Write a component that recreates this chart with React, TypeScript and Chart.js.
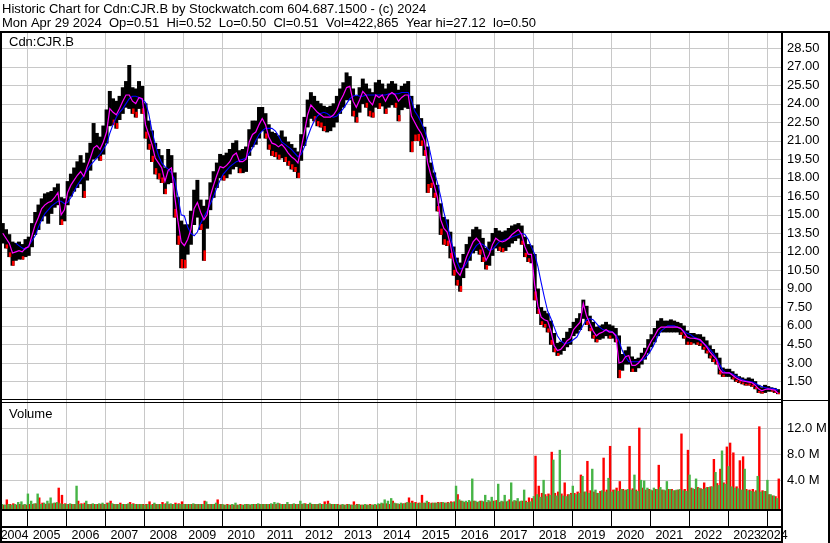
import { useEffect, useRef } from 'react';
import { Chart, registerables } from 'chart.js';

Chart.register(...registerables);

// ---------- data (monthly, May 2004 .. Apr 2024) ----------
const START_YEAR = 2004;
const START_MONTH = 4; // May (0-based)

const closePx = [
  13.5, 13.1, 12.7, 11.9, 12.0, 12.1, 12.0, 12.3,
  12.4, 13.3, 14.2, 14.8, 15.5, 15.8, 16.0, 16.1, 16.4, 16.8, 15.0, 15.4,
  16.8, 17.4, 17.8, 18.2, 18.5, 18.1, 18.9, 19.6, 20.4, 20.6, 20.3, 20.9,
  21.7, 23.6, 23.3, 23.1, 23.6, 24.2, 24.7, 24.7, 24.2, 24.0, 24.5, 24.4,
  22.3, 21.5, 20.7, 19.6, 19.2, 18.8, 17.7, 18.6, 18.8, 16.5, 14.5, 12.8,
  12.5, 13.0, 13.8, 15.5, 16.0, 15.2, 14.6, 15.0, 16.5, 17.4, 18.2, 18.9,
  18.8, 19.0, 19.3, 19.8, 20.0, 19.3, 19.3, 19.5, 20.9, 21.5, 21.7, 22.3,
  22.8, 22.3, 21.3, 20.8, 20.7, 20.5, 20.7, 20.4, 20.0, 19.7, 19.5, 19.2,
  20.4, 21.7, 23.1, 23.9, 23.6, 23.3, 23.1, 22.9, 22.9, 22.9, 23.1, 23.5,
  24.2, 24.7, 25.3, 25.4, 24.2, 23.7, 24.3, 25.0, 24.7, 24.2, 23.9, 24.7,
  24.5, 24.7, 24.2, 24.7, 24.9, 24.7, 24.2, 24.5, 24.7, 24.7, 23.0, 22.5,
  22.0, 21.6, 21.0, 19.2, 18.2, 17.4, 16.4, 14.6, 13.9, 13.6, 12.6, 11.2,
  10.4, 10.1, 10.8, 11.6, 12.2, 12.8, 13.1, 12.8, 12.2, 11.3, 11.8, 12.6,
  13.1, 12.9, 12.8, 12.9, 13.1, 13.4, 13.6, 13.8, 13.4, 12.4, 11.8, 11.8,
  9.3, 7.6, 6.7, 6.5, 6.4, 5.6, 4.4, 4.0, 4.1, 4.4, 4.8, 5.0,
  5.7, 6.0, 6.3, 7.8, 6.8, 6.2, 5.6, 5.2, 5.4, 5.5, 5.7, 5.5,
  5.5, 5.2, 3.0, 3.1, 3.5, 3.6, 2.8, 2.8, 3.0, 3.3, 3.7, 4.3,
  4.8, 5.2, 5.7, 5.9, 5.9, 5.9, 5.9, 5.9, 5.9, 5.8, 5.5, 5.1,
  5.0, 5.0, 4.95, 4.9, 4.6, 4.3, 3.9, 3.6, 3.3, 2.5, 2.2, 2.2,
  2.2, 2.0, 1.8, 1.65, 1.55, 1.5, 1.45, 1.4, 1.2, 0.9, 0.75, 0.85,
  0.9, 0.85, 0.8, 0.55,
];

const highPx = [
  14.3, 13.8, 13.4, 12.8, 12.7, 12.8, 12.6, 13.0,
  13.2, 14.3, 15.2, 15.8, 16.3, 16.7, 16.8, 16.9, 17.2, 17.5, 16.4, 16.3,
  17.7, 18.3, 18.8, 19.3, 19.8, 19.2, 20.0, 20.8, 22.4, 21.6, 21.3, 22.2,
  23.5, 25.0, 24.4, 24.2, 24.6, 25.3, 25.8, 27.1, 25.3, 25.2, 25.8, 25.4,
  24.0, 22.6, 21.8, 20.8, 20.3, 19.8, 18.8, 20.3, 19.8, 18.4, 16.4, 14.5,
  14.2, 14.2, 15.3, 17.0, 17.8, 16.2, 15.7, 16.2, 17.6, 18.5, 19.2, 19.9,
  19.8, 20.0, 20.3, 20.8, 21.0, 20.2, 20.3, 20.5, 21.9, 22.6, 22.6, 23.7,
  23.7, 23.2, 22.3, 21.7, 21.6, 21.4, 21.8, 21.3, 20.9, 20.7, 20.4, 20.1,
  21.5, 22.9, 24.3, 24.9, 24.6, 24.2, 24.0, 23.8, 23.7, 23.8, 24.0, 24.6,
  25.2, 25.7, 26.5, 26.2, 25.2, 24.6, 25.3, 26.0, 25.6, 25.2, 24.9, 25.7,
  25.9, 25.6, 25.2, 25.6, 25.8, 25.6, 25.1, 25.4, 25.6, 25.8, 24.6, 23.6,
  23.9, 22.8, 22.1, 20.5, 19.2, 18.4, 17.4, 15.9, 14.8, 14.6, 13.6, 12.4,
  11.5, 11.1, 11.8, 12.6, 13.2, 13.8, 14.0, 13.8, 13.1, 12.3, 12.8, 13.5,
  13.9, 13.7, 13.6, 13.7, 13.9, 14.1, 14.2, 14.3, 14.1, 13.2, 12.6, 12.5,
  11.8, 9.0, 7.5, 7.2, 7.0, 6.4, 5.4, 4.6, 4.7, 5.0, 5.5, 5.8,
  6.3, 6.6, 7.0, 8.1, 7.6, 6.8, 6.3, 5.9, 6.0, 6.1, 6.3, 6.1,
  6.0, 5.8, 5.2, 3.7, 4.0, 4.3, 3.5, 3.3, 3.4, 3.8, 4.2, 4.9,
  5.3, 5.8, 6.4, 6.6, 6.4, 6.4, 6.5, 6.4, 6.3, 6.2, 6.0, 5.6,
  5.4, 5.4, 5.3, 5.3, 5.1, 4.8, 4.4, 4.1, 3.8, 3.4, 2.6, 2.5,
  2.5, 2.3, 2.1, 1.9, 1.8, 1.7, 1.8, 1.7, 1.5, 1.2, 1.0, 1.2,
  1.1, 1.0, 0.95, 0.85,
];

const lowPx = [
  12.7, 12.3, 11.6, 10.9, 11.3, 11.4, 11.4, 11.6,
  11.7, 12.4, 13.4, 13.8, 14.5, 14.9, 14.3, 15.1, 15.6, 15.8, 14.2, 14.5,
  15.8, 16.5, 16.9, 17.2, 17.5, 16.4, 17.8, 18.6, 19.5, 19.6, 19.4, 19.9,
  20.8, 22.2, 22.3, 22.0, 22.7, 23.2, 23.7, 23.6, 23.2, 22.9, 23.6, 23.2,
  21.2, 20.3, 19.3, 18.3, 17.9, 17.6, 16.7, 17.5, 17.6, 14.8, 12.6, 10.7,
  10.7, 11.8, 12.6, 14.2, 14.8, 13.8, 11.3, 13.9, 15.4, 16.4, 17.2, 18.0,
  17.8, 18.0, 18.3, 18.7, 18.9, 18.4, 18.4, 18.5, 19.8, 20.5, 20.7, 21.2,
  21.8, 21.2, 20.3, 19.8, 19.7, 19.5, 19.6, 19.3, 19.0, 18.7, 18.5, 18.0,
  19.4, 20.6, 22.1, 22.8, 22.6, 22.2, 22.1, 21.8, 21.7, 21.8, 22.1, 22.5,
  23.2, 23.7, 24.3, 24.3, 23.0, 22.5, 23.3, 24.0, 23.7, 23.0, 22.9, 23.7,
  23.6, 23.8, 23.2, 23.7, 23.9, 23.7, 22.6, 23.5, 23.7, 23.6, 20.1, 21.0,
  21.0, 20.6, 19.8, 16.8, 17.2, 16.4, 15.3, 13.4, 12.6, 12.5, 11.5, 10.1,
  9.3, 8.8, 9.9, 10.7, 11.3, 11.9, 12.1, 11.8, 11.2, 10.6, 10.9, 11.7,
  12.3, 12.1, 12.0, 12.1, 12.4, 12.7, 12.9, 13.1, 12.6, 11.6, 11.2, 11.1,
  8.1, 7.0, 6.1, 5.9, 5.5, 4.5, 3.9, 3.6, 3.7, 4.0, 4.3, 4.5,
  5.2, 5.4, 5.7, 6.6, 6.1, 5.6, 5.0, 4.7, 4.9, 5.0, 5.2, 5.0,
  5.0, 4.7, 1.8, 2.4, 2.9, 2.9, 2.3, 2.3, 2.6, 2.9, 3.3, 3.8,
  4.3, 4.7, 5.2, 5.5, 5.5, 5.5, 5.5, 5.5, 5.5, 5.3, 5.0, 4.5,
  4.5, 4.6, 4.5, 4.4, 4.1, 3.8, 3.4, 3.1, 2.9, 2.1, 1.9, 1.9,
  1.9, 1.7, 1.5, 1.4, 1.3, 1.2, 1.2, 1.1, 0.9, 0.6, 0.55, 0.6,
  0.7, 0.7, 0.6, 0.5,
];

const slowAvg = [
  null, null, null, null, 12.7, 12.5, 12.3, 12.2,
  12.5, 12.9, 13.3, 14.0, 14.6, 15.1, 15.4, 15.7, 15.9, 16.1, 16.1, 15.9,
  16.0, 16.4, 16.9, 17.4, 17.8, 18.2, 18.6, 19.0, 19.3, 19.6, 19.9, 20.3,
  20.7, 21.6, 22.3, 22.9, 23.3, 23.6, 24.0, 24.4, 24.6, 24.6, 24.5, 24.3,
  24.1, 23.2, 21.8, 20.7, 19.8, 19.2, 18.9, 18.7, 18.4, 17.8, 16.5, 15.0,
  14.9, 14.0, 13.5, 13.3, 13.6, 14.3, 14.8, 15.3, 15.9, 16.5, 17.2, 17.8,
  18.3, 18.6, 18.9, 19.1, 19.3, 19.4, 19.5, 19.6, 20.0, 20.4, 21.0, 21.5,
  21.8, 22.0, 22.0, 22.0, 21.8, 21.4, 20.9, 20.7, 20.5, 20.3, 20.0, 19.7,
  19.9, 20.5, 21.3, 22.0, 22.6, 23.0, 23.2, 23.3, 23.2, 23.0, 22.9, 23.0,
  23.3, 23.6, 24.0, 24.4, 24.6, 24.7, 24.6, 24.6, 24.7, 24.7, 24.7, 24.7,
  24.7, 24.7, 24.7, 24.8, 24.8, 24.8, 24.8, 24.9, 24.9, 24.9, 24.3, 23.4,
  23.0, 22.5, 21.9, 21.0, 19.8, 18.5, 17.6, 16.5, 15.2, 14.2, 13.2, 12.1,
  11.2, 10.6, 10.7, 11.1, 11.6, 12.1, 12.5, 12.7, 12.6, 12.4, 12.1, 12.2,
  12.5, 12.8, 12.9, 13.0, 13.1, 13.2, 13.3, 13.4, 13.5, 13.4, 13.0, 12.4,
  11.8, 10.8, 9.5, 8.3, 7.2, 6.6, 5.9, 5.2, 4.8, 4.6, 4.6, 4.7,
  4.9, 5.1, 5.6, 6.1, 6.5, 6.6, 6.5, 6.2, 5.9, 5.7, 5.6, 5.6,
  5.5, 5.3, 4.8, 4.0, 3.5, 3.1, 3.1, 3.1, 3.1, 3.2, 3.4, 3.7,
  4.1, 4.6, 5.2, 5.6, 5.8, 6.0, 6.0, 6.0, 5.9, 5.8, 5.6, 5.4,
  5.3, 5.1, 5.0, 4.8, 4.6, 4.4, 4.1, 3.8, 3.4, 2.9, 2.4, 2.2,
  2.2, 2.1, 1.95, 1.8, 1.65, 1.55, 1.5, 1.45, 1.35, 1.2, 1.1, 1.0,
  0.95, 0.95, 0.9, 0.8,
];

// volume in millions: up-day level (green) and down-day level (red)
const volUp = [
  0.3, 0.2, 0.3, 0.2, 0.3, 0.6, 0.7, 0.3,
  1.9, 0.8, 0.4, 1.9, 0.3, 0.5, 0.8, 1.3, 0.5, 0.6, 0.4, 0.3,
  0.3, 0.4, 0.3, 3.1, 0.3, 0.3, 0.8, 0.3, 0.4, 0.3, 0.4, 0.5,
  0.3, 0.5, 0.4, 0.3, 0.3, 0.3, 0.3, 0.4, 0.3, 0.3, 0.3, 0.3,
  0.2, 0.3, 0.2, 0.5, 0.3, 0.3, 0.3, 0.7, 0.4, 0.3, 0.3, 0.3,
  0.3, 0.3, 0.3, 0.4, 0.3, 0.3, 0.3, 0.7, 0.3, 0.3, 0.5, 0.3,
  0.3, 0.2, 0.2, 0.3, 0.5, 0.2, 0.2, 0.3, 0.3, 0.3, 0.3, 0.4,
  0.3, 0.3, 0.3, 0.4, 0.6, 0.5, 0.3, 0.3, 0.6, 0.3, 0.4, 0.3,
  0.8, 0.4, 0.3, 0.5, 0.3, 0.3, 0.4, 0.3, 0.3, 0.4, 0.3, 0.3,
  0.2, 0.3, 0.2, 0.3, 0.2, 0.2, 0.3, 0.2, 0.3, 0.2, 0.2, 0.3,
  0.4, 0.5, 1.0, 0.8, 1.2, 0.5, 0.4, 0.5, 0.4, 0.6, 0.5, 0.5,
  0.4, 0.5, 0.5, 0.8, 0.4, 0.5, 0.5, 0.5, 0.6, 0.5, 0.5, 0.6,
  3.1, 1.0, 0.8, 0.8, 0.9, 4.2, 0.8, 0.7, 0.8, 1.7, 0.9, 1.4,
  0.8, 3.4, 0.8, 1.7, 0.8, 3.6, 0.9, 1.2, 0.8, 2.5, 0.6, 0.7,
  1.5, 1.8, 1.4, 4.0, 1.5, 1.7, 7.1, 1.6, 8.6, 1.6, 1.5, 1.8,
  3.1, 1.8, 2.0, 4.6, 2.2, 2.0, 5.7, 2.5, 2.0, 2.4, 2.2, 4.3,
  2.2, 2.5, 2.3, 2.6, 2.4, 2.6, 2.5, 4.8, 2.3, 4.0, 3.9, 2.8,
  2.5, 2.8, 2.6, 2.9, 2.5, 3.8, 2.6, 2.4, 2.5, 2.6, 2.4, 2.3,
  4.8, 2.7, 4.2, 2.8, 2.6, 2.8, 2.9, 3.0, 5.2, 3.2, 8.5, 3.4,
  6.1, 3.0, 2.8, 2.7, 2.5, 5.7, 2.4, 2.3, 2.2, 4.6, 2.2, 2.3,
  4.0, 1.8, 1.6, 1.2,
];

const volDown = [
  0.2, 1.0, 0.3, 0.4, 0.2, 0.3, 0.2, 0.2,
  0.3, 0.3, 0.4, 1.3, 0.5, 0.3, 0.4, 0.4, 0.5, 2.8, 1.7, 0.4,
  0.3, 0.3, 0.3, 0.8, 0.4, 0.5, 0.3, 0.3, 0.3, 0.3, 0.3, 0.3,
  0.5, 0.8, 0.3, 0.3, 0.5, 0.3, 0.3, 0.6, 0.4, 0.3, 0.3, 0.3,
  0.3, 0.7, 0.3, 0.3, 0.3, 0.6, 0.4, 0.3, 0.3, 0.5, 0.4, 0.7,
  0.3, 0.3, 0.3, 0.3, 0.3, 0.3, 0.8, 0.3, 0.3, 0.3, 1.0, 0.3,
  0.2, 0.3, 0.2, 0.2, 0.2, 0.3, 0.2, 0.3, 0.2, 0.3, 0.3, 0.3,
  0.3, 0.3, 0.3, 0.3, 0.3, 0.4, 0.3, 0.3, 0.3, 0.3, 0.3, 0.3,
  0.3, 0.4, 0.3, 0.3, 0.3, 0.3, 0.3, 0.7, 0.8, 0.3, 0.3, 0.3,
  0.2, 0.2, 0.3, 0.2, 0.7, 0.3, 0.2, 0.2, 0.2, 0.3, 0.2, 0.2,
  0.3, 0.4, 0.4, 0.3, 0.8, 0.4, 0.3, 0.4, 0.5, 1.3, 0.8, 0.6,
  0.5, 1.7, 0.5, 0.6, 0.5, 0.5, 0.6, 0.6, 0.5, 0.6, 0.7, 0.7,
  1.8, 0.8, 0.6, 0.6, 0.7, 0.8, 0.6, 0.8, 0.7, 0.6, 0.7, 0.8,
  0.9, 0.6, 0.7, 0.7, 1.0, 0.7, 0.8, 0.7, 0.8, 0.8, 1.3, 1.2,
  7.7, 3.1, 2.0, 1.8, 1.9, 8.3, 2.0, 2.2, 1.9, 3.6, 1.8, 2.0,
  2.0, 2.2, 4.8, 2.2, 6.9, 2.4, 2.2, 2.0, 2.3, 7.4, 2.5, 9.2,
  2.5, 2.8, 3.8, 2.6, 2.5, 9.2, 2.7, 2.5, 12.0, 2.8, 2.5, 2.6,
  2.4, 2.6, 6.3, 2.5, 2.4, 2.6, 2.6, 2.4, 2.5, 11.1, 2.6, 8.6,
  2.8, 2.6, 2.9, 2.7, 3.6, 2.9, 3.0, 7.2, 3.5, 5.7, 3.6, 9.1,
  9.7, 8.2, 3.0, 7.0, 7.6, 2.6, 2.5, 2.6, 2.4, 12.2, 2.4, 2.3,
  1.8, 1.6, 1.5, 4.2,
];

const priceTicks = [1.5, 3, 4.5, 6, 7.5, 9, 10.5, 12, 13.5, 15, 16.5, 18, 19.5, 21, 22.5, 24, 25.5, 27, 28.5];
const volumeTicks = [4, 8, 12];
const yearBreaks = [2005, 2006, 2007, 2008, 2009, 2010, 2011, 2012, 2013, 2014, 2015, 2016, 2017, 2018, 2019, 2020, 2021, 2022, 2023, 2024];
const yearNames = ['2004', '2005', '2006', '2007', '2008', '2009', '2010', '2011', '2012', '2013', '2014', '2015', '2016', '2017', '2018', '2019', '2020', '2021', '2022', '2023', '2024'];

const titleLine1 = 'Historic Chart for Cdn:CJR.B by Stockwatch.com 604.687.1500 - (c) 2024';
const titleLine2 = 'Mon Apr 29 2024  Op=0.51  Hi=0.52  Lo=0.50  Cl=0.51  Vol=422,865  Year hi=27.12  lo=0.50';
const symbolLabel = 'Cdn:CJR.B';
const volumeLabel = 'Volume';

// ---------- helpers ----------
const X_MIN = 2004.355;
const X_MAX = 2024.37;
const FONT = '"Liberation Sans", Arial, Helvetica, sans-serif';
const GRID = '#c8c8c8';
const GREEN = '#46b446';
const RED = '#ff0000';

const monthX = closePx.map((_, i) => START_YEAR + (START_MONTH + i + 0.5) / 12);
const labelCenters = yearNames.map((_, k) => {
  const a = Math.max(START_YEAR + k, X_MIN);
  const b = Math.min(START_YEAR + k + 1, X_MAX);
  return (a + b) / 2;
});

const framePlugin = {
  id: 'stockFrame',
  beforeDatasetsDraw(chart: any) {
    const ctx = chart.ctx;
    const { left, right, top, bottom } = chart.chartArea;
    const { x, y, yv } = chart.scales;
    ctx.save();
    ctx.fillStyle = GRID;
    for (const v of priceTicks) ctx.fillRect(left, Math.round(y.getPixelForValue(v)), right - left, 1);
    for (const v of volumeTicks) ctx.fillRect(left, Math.round(yv.getPixelForValue(v)), right - left, 1);
    for (const v of yearBreaks) ctx.fillRect(Math.round(x.getPixelForValue(v)), top, 1, bottom - top);
    ctx.restore();
  },
  afterDraw(chart: any) {
    const ctx = chart.ctx;
    const { left, right, top, bottom } = chart.chartArea;
    const W = chart.width;
    const H = chart.height;
    const sep = chart.scales.y.bottom;
    const xs = chart.scales.x;
    ctx.save();
    ctx.fillStyle = '#000';
    // outer frame
    ctx.fillRect(0, top - 2, W, 2);
    ctx.fillRect(0, top - 2, left, H - top + 2);
    ctx.fillRect(right, top - 2, 2, H - top + 2);
    ctx.fillRect(W - 2, top - 2, 2, H - top + 2);
    // price / volume separator (double line)
    ctx.fillRect(0, sep - 1, right, 1);
    ctx.fillRect(0, sep + 2, right, 1);
    ctx.fillRect(right, sep, W - right, 1);
    // date box
    ctx.fillRect(0, bottom, right + 2, 2);
    ctx.fillRect(0, bottom + 17, right + 2, 2);
    ctx.fillRect(0, H - 2, right + 2, 2);
    for (const v of yearBreaks) ctx.fillRect(Math.round(xs.getPixelForValue(v)), bottom, 1, 18);
    // texts
    ctx.font = `13px ${FONT}`;
    ctx.textBaseline = 'alphabetic';
    ctx.textAlign = 'left';
    ctx.fillText(titleLine1, 2, 13);
    ctx.fillText(titleLine2, 2, 27);
    ctx.fillText(symbolLabel, 9, top + 13);
    ctx.fillText(volumeLabel, 9, sep + 18);
    ctx.restore();
  },
};

export default function App() {
  const ref = useRef<HTMLCanvasElement | null>(null);

  useEffect(() => {
    const canvas = ref.current;
    if (!canvas) return;

    const priceBars = monthX.map((x, i) => ({ x, y: [lowPx[i], highPx[i]] }));
    const redTicks = monthX.map((x, i) =>
      i > 0 && closePx[i] < closePx[i - 1]
        ? { x: x + 0.25 / 12, y: [lowPx[i], lowPx[i] + (highPx[i] - lowPx[i]) * 0.18] }
        : { x, y: null }
    );
    const fastLine = monthX.map((x, i) => ({ x, y: closePx[i] }));
    const slowLine = monthX.map((x, i) => ({ x, y: slowAvg[i] }));
    const VMIN = -0.414;
    const upBars = monthX.map((x, i) => ({ x: x - 0.25 / 12, y: [VMIN, volUp[i]] }));
    const downBars = monthX.map((x, i) => ({ x: x + 0.25 / 12, y: [VMIN, volDown[i]] }));

    const hiddenGrid = { display: false, drawTicks: false, offset: false };

    const chart = new Chart(canvas, {
      type: 'bar',
      data: {
        datasets: [
          { type: 'line', data: fastLine, borderColor: '#ff00ff', borderWidth: 1.2, pointRadius: 0, xAxisID: 'x', yAxisID: 'y', order: 0 },
          { type: 'line', data: slowLine, borderColor: '#0000ff', borderWidth: 1.1, pointRadius: 0, xAxisID: 'x', yAxisID: 'y', order: 1 },
          { type: 'bar', data: redTicks as any, backgroundColor: RED, barThickness: 1.8, grouped: false, xAxisID: 'x', yAxisID: 'y', order: 2 },
          { type: 'bar', data: priceBars as any, backgroundColor: '#000', barThickness: 3.3, grouped: false, xAxisID: 'x', yAxisID: 'y', order: 3 },
          { type: 'bar', data: upBars as any, backgroundColor: GREEN, barThickness: 1.75, grouped: false, xAxisID: 'x', yAxisID: 'yv', order: 4 },
          { type: 'bar', data: downBars as any, backgroundColor: RED, barThickness: 1.75, grouped: false, xAxisID: 'x', yAxisID: 'yv', order: 4 },
        ] as any,
      },
      options: {
        animation: false,
        responsive: false,
        maintainAspectRatio: false,
        devicePixelRatio: 1,
        events: [],
        layout: { padding: { top: 33, left: 2, right: 0, bottom: 0 } },
        plugins: { legend: { display: false }, tooltip: { enabled: false }, title: { display: false } },
        scales: {
          x: {
            type: 'linear',
            position: 'bottom',
            offset: false,
            min: X_MIN,
            max: X_MAX,
            afterFit: (s: any) => { s.height = 34; s.paddingLeft = 0; s.paddingRight = 0; },
            afterBuildTicks: (s: any) => { s.ticks = labelCenters.map((v) => ({ value: v })); },
            ticks: {
              autoSkip: false,
              maxRotation: 0,
              minRotation: 0,
              padding: 19,
              color: '#000',
              font: { family: FONT, size: 12.5 },
              callback: (_v: any, i: number) => yearNames[i],
            },
            grid: hiddenGrid,
            border: { display: false },
          },
          y: {
            type: 'linear',
            position: 'right',
            stack: 'panels',
            stackWeight: 367,
            min: 0,
            max: 29.72,
            afterFit: (s: any) => { s.width = 49; s.paddingTop = 0; s.paddingBottom = 0; },
            afterBuildTicks: (s: any) => { s.ticks = priceTicks.map((v) => ({ value: v })); },
            ticks: { autoSkip: false, padding: 6, color: '#000', font: { family: FONT, size: 13 }, callback: (v: any) => Number(v).toFixed(2) },
            grid: hiddenGrid,
            border: { display: false },
          },
          yv: {
            type: 'linear',
            position: 'right',
            stack: 'panels',
            stackWeight: 109,
            min: -0.414,
            max: 16.29,
            afterFit: (s: any) => { s.width = 49; s.paddingTop = 0; s.paddingBottom = 0; },
            afterBuildTicks: (s: any) => { s.ticks = volumeTicks.map((v) => ({ value: v })); },
            ticks: { autoSkip: false, padding: 6, color: '#000', font: { family: FONT, size: 13 }, callback: (v: any) => `${Number(v).toFixed(1)} M` },
            grid: hiddenGrid,
            border: { display: false },
          },
        },
      } as any,
      plugins: [framePlugin],
    });

    return () => chart.destroy();
  }, []);

  return (
    <div style={{ position: 'fixed', left: 0, top: 0, width: 830, height: 543, background: '#fff' }}>
      <canvas ref={ref} width={830} height={543} style={{ display: 'block', width: 830, height: 543 }} />
    </div>
  );
}
